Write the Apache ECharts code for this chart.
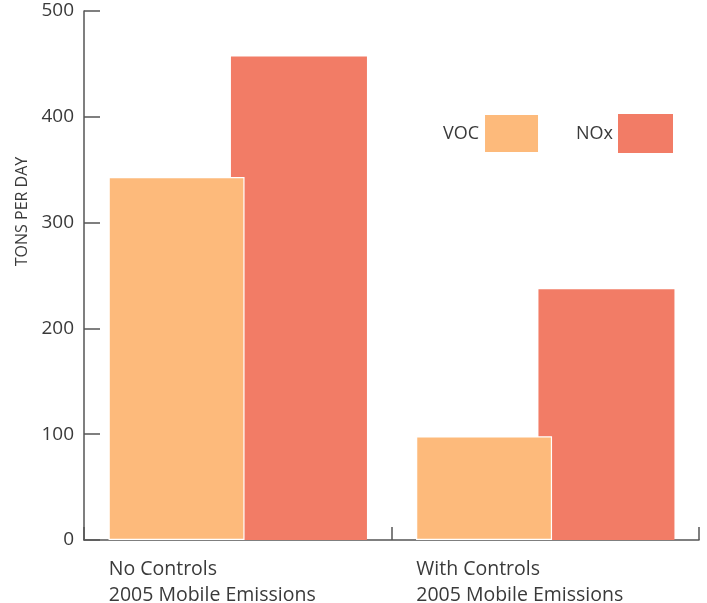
<!DOCTYPE html>
<html>
<head>
<meta charset="utf-8">
<style>
  html, body { margin: 0; padding: 0; background: #fff; }
  #chart { width: 707px; height: 603px; }
</style>
<script src="https://cdn.jsdelivr.net/npm/echarts@6/dist/echarts.min.js"></script>
</head>
<body>
<div id="chart"></div>
<script>
// Mobile-source emissions, tons per day
const categories = [
  ['No Controls', '2005 Mobile Emissions'],
  ['With Controls', '2005 Mobile Emissions']
];
const seriesNames = ['VOC', 'NOx'];
const vocValues = [343, 98];
const noxValues = [457, 237];
const yTicks = { min: 0, max: 500, interval: 100 };

const textColor = '#3a3a3a';
const axisColor = '#555';
const font = '"Open Sans", "Noto Sans", sans-serif';

const chart = echarts.init(document.getElementById('chart'), null, { renderer: 'canvas' });

chart.setOption({
  animation: false,
  backgroundColor: '#fff',
  textStyle: { fontFamily: font, color: textColor },
  grid: { left: 84, right: 8, top: 11, bottom: 63, containLabel: false, outerBoundsMode: 'none' },
  legend: {
    data: seriesNames,
    right: 34,
    top: 113,
    padding: 0,
    align: 'right',
    itemWidth: 55,
    itemHeight: 39,
    itemGap: 36,
    icon: 'rect',
    textStyle: { fontSize: 18, color: textColor, fontFamily: font }
  },
  xAxis: {
    type: 'category',
    data: categories.map(c => c.join('\n')),
    axisLine: { lineStyle: { color: axisColor, width: 1.5 } },
    axisTick: { show: true, inside: true, interval: 0, length: 13, lineStyle: { color: axisColor, width: 1.5 } },
    axisLabel: {
      interval: 0,
      hideOverlap: false,
      margin: 16,
      align: 'center',
      color: textColor,
      fontSize: 19.5,
      formatter: v => v.split('\n').map(s => '{a|' + s + '}').join('\n'),
      rich: {
        a: { width: 258, align: 'left', fontSize: 19.5, lineHeight: 26, color: textColor, fontFamily: font }
      }
    }
  },
  yAxis: {
    type: 'value',
    min: yTicks.min,
    max: yTicks.max,
    interval: yTicks.interval,
    name: 'TONS PER DAY',
    nameLocation: 'middle',
    nameRotate: 90,
    nameGap: 51,
    nameTextStyle: {
      fontSize: 16,
      color: textColor,
      fontFamily: font,
      padding: [0, 0, 0, 128]
    },
    axisLine: { show: true, lineStyle: { color: axisColor, width: 1.5 } },
    axisTick: { show: true, inside: true, length: 16, lineStyle: { color: axisColor, width: 1.5 } },
    axisLabel: { fontSize: 19, color: textColor, margin: 10 },
    splitLine: { show: false }
  },
  series: [
    {
      name: 'VOC',
      type: 'bar',
      data: vocValues,
      barWidth: 136,
      barGap: '-10%',
      z: 3,
      itemStyle: { color: '#FDBA7B', borderColor: '#fff', borderWidth: 1.2 }
    },
    {
      name: 'NOx',
      type: 'bar',
      data: noxValues,
      barWidth: 136,
      z: 2,
      itemStyle: { color: '#F27C66' }
    }
  ]
});
</script>
</body>
</html>
